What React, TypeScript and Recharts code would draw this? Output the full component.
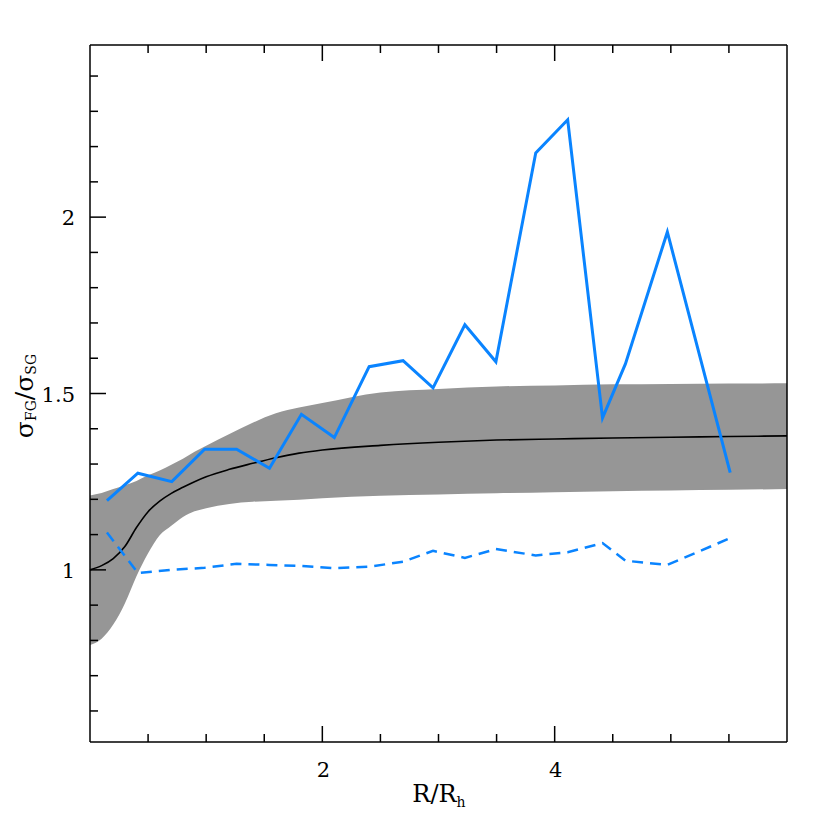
import { Area, ComposedChart, Line, XAxis, YAxis } from "recharts";

// model band (grey) and its median (black), sampled on a grid in R/R_h
const gridR = [0, 0.1, 0.2, 0.3, 0.4, 0.5, 0.6, 0.7, 0.8, 0.9, 1.0, 1.2, 1.4, 1.6, 1.8, 2.0, 2.5, 3.0, 3.5, 4.0, 4.5, 5.0, 5.5, 6.0];
const medianRatio = [1.0, 1.012, 1.032, 1.066, 1.12, 1.165, 1.195, 1.217, 1.234, 1.25, 1.264, 1.285, 1.302, 1.318, 1.331, 1.34, 1.353, 1.362, 1.368, 1.371, 1.374, 1.376, 1.378, 1.38];
const bandLow = [0.787, 0.805, 0.845, 0.905, 0.982, 1.047, 1.098, 1.125, 1.15, 1.166, 1.175, 1.187, 1.193, 1.196, 1.199, 1.203, 1.21, 1.214, 1.217, 1.22, 1.223, 1.225, 1.227, 1.229];
const bandHigh = [1.211, 1.218, 1.229, 1.24, 1.252, 1.268, 1.282, 1.298, 1.315, 1.335, 1.352, 1.385, 1.417, 1.444, 1.46, 1.473, 1.503, 1.513, 1.52, 1.523, 1.526, 1.527, 1.528, 1.529];

// measured profiles (blue)
const binR = [0.146, 0.412, 0.704, 0.987, 1.262, 1.545, 1.82, 2.103, 2.403, 2.695, 2.953, 3.227, 3.494, 3.837, 4.112, 4.412, 4.609, 4.97, 5.511];
const observedRatio = [1.196, 1.274, 1.25, 1.342, 1.342, 1.288, 1.441, 1.375, 1.576, 1.593, 1.516, 1.695, 1.59, 2.182, 2.276, 1.431, 1.584, 1.958, 1.276];
const referenceRatio = [1.106, 0.991, 1.0, 1.006, 1.017, 1.014, 1.011, 1.005, 1.009, 1.023, 1.054, 1.034, 1.059, 1.041, 1.05, 1.076, 1.026, 1.014, 1.09];

const xTicks = [0.5, 1, 1.5, 2, 2.5, 3, 3.5, 4, 4.5, 5, 5.5];
const xLabelled = [2, 4];
const yTicks = [0.6, 0.7, 0.8, 0.9, 1, 1.1, 1.2, 1.3, 1.4, 1.5, 1.6, 1.7, 1.8, 1.9, 2, 2.1, 2.2, 2.3, 2.4];
const yLabelled = [1, 1.5, 2];

const modelRows = gridR.map((r, i) => ({ r, median: medianRatio[i], band: [bandLow[i], bandHigh[i]] }));
const observedRows = binR.map((r, i) => ({ r, solid: observedRatio[i], dashed: referenceRatio[i] }));

const FONT = "'DejaVu Serif', 'Liberation Serif', serif";
const BLUE = "#0a84ff";

const isMajor = (v: number, list: number[]) => list.some((m) => Math.abs(m - v) < 1e-6);

function makeTick(side: "bottom" | "top" | "left" | "right", majors: number[], labelled: boolean) {
  return (props: any) => {
    const { x, y, payload } = props;
    const v = payload.value;
    const major = isMajor(v, majors);
    const len = major ? 16 : 8;
    let line;
    if (side === "bottom") line = <line x1={x} y1={y} x2={x} y2={y - len} stroke="#000" strokeWidth={1.5} />;
    else if (side === "top") line = <line x1={x} y1={y} x2={x} y2={y + len} stroke="#000" strokeWidth={1.5} />;
    else if (side === "left") line = <line x1={x} y1={y} x2={x + len} y2={y} stroke="#000" strokeWidth={1.5} />;
    else line = <line x1={x} y1={y} x2={x - len} y2={y} stroke="#000" strokeWidth={1.5} />;
    return (
      <g>
        {line}
        {labelled && major && side === "bottom" && (
          <text x={x + 1} y={y + 35} textAnchor="middle" fontFamily={FONT} fontSize={21} fill="#000">
            {v}
          </text>
        )}
        {labelled && major && side === "left" && (
          <text x={x - 15} y={y + 8} textAnchor="end" fontFamily={FONT} fontSize={21} fill="#000">
            {v}
          </text>
        )}
      </g>
    );
  };
}

export default function App() {
  return (
    <div style={{ width: 822, height: 822 }}>
      <ComposedChart
        width={822}
        height={822}
        data={modelRows}
        margin={{ top: 27, right: 33, bottom: 48, left: 32 }}
      >
        <XAxis
          dataKey="r"
          type="number"
          domain={[0, 6]}
          ticks={xTicks}
          interval={0}
          height={40}
          tickSize={0}
          tickMargin={0}
          tickLine={false}
          axisLine={{ stroke: "#000", strokeWidth: 1.5 }}
          tick={makeTick("bottom", xLabelled, true)}
          label={{
            content: () => (
              <text x={431} y={794} textAnchor="middle" fontFamily={FONT} fontSize={24} fill="#000">
                R/R
                <tspan fontSize={14} dy={5}>h</tspan>
              </text>
            ),
          }}
        />
        <XAxis
          xAxisId="top"
          orientation="top"
          dataKey="r"
          type="number"
          domain={[0, 6]}
          ticks={xTicks}
          interval={0}
          height={10}
          tickSize={0}
          tickMargin={0}
          tickLine={false}
          axisLine={{ stroke: "#000", strokeWidth: 1.5 }}
          tick={makeTick("top", xLabelled, false)}
        />
        <YAxis
          type="number"
          domain={[0.512, 2.488]}
          ticks={yTicks}
          interval={0}
          width={50}
          tickSize={0}
          tickMargin={0}
          tickLine={false}
          axisLine={{ stroke: "#000", strokeWidth: 1.5 }}
          tick={makeTick("left", yLabelled, true)}
          label={{
            content: () => (
              <text
                x={25}
                y={388}
                transform="rotate(-90 25 388)"
                textAnchor="middle"
                fontFamily={FONT}
                fontSize={25}
                fill="#000"
              >
                σ<tspan fontSize={14} dy={3}>FG</tspan>
                <tspan dy={-3}>/σ</tspan>
                <tspan fontSize={14} dy={3}>SG</tspan>
              </text>
            ),
          }}
        />
        <YAxis
          yAxisId="right"
          orientation="right"
          type="number"
          domain={[0.512, 2.488]}
          ticks={yTicks}
          interval={0}
          width={10}
          tickSize={0}
          tickMargin={0}
          tickLine={false}
          axisLine={{ stroke: "#000", strokeWidth: 1.5 }}
          tick={makeTick("right", yLabelled, false)}
        />
        <Area
          dataKey="band"
          type="monotone"
          stroke="none"
          fill="#969696"
          fillOpacity={1}
          isAnimationActive={false}
          dot={false}
          activeDot={false}
        />
        <Line
          dataKey="median"
          type="monotone"
          stroke="#000"
          strokeWidth={1.6}
          dot={false}
          activeDot={false}
          isAnimationActive={false}
        />
        <Line
          data={observedRows}
          dataKey="solid"
          type="linear"
          stroke={BLUE}
          strokeWidth={3}
          dot={false}
          activeDot={false}
          isAnimationActive={false}
        />
        <Line
          data={observedRows}
          dataKey="dashed"
          type="linear"
          stroke={BLUE}
          strokeWidth={2.5}
          strokeDasharray="11 7"
          dot={false}
          activeDot={false}
          isAnimationActive={false}
        />
      </ComposedChart>
    </div>
  );
}
